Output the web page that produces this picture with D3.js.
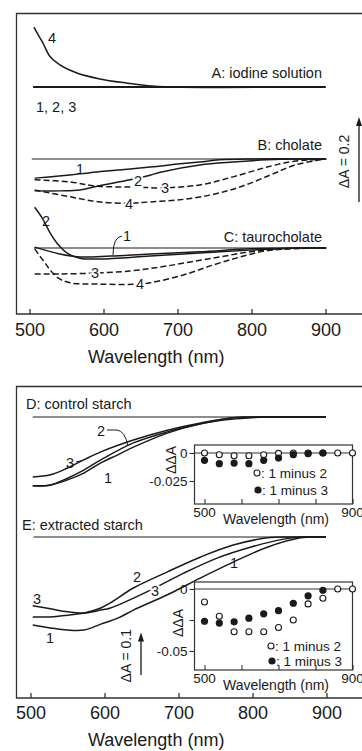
<!DOCTYPE html>
<html><head><meta charset="utf-8">
<script src="https://cdn.jsdelivr.net/npm/d3@7"></script>
<style>
body{margin:0;background:#fff}
svg{display:block}
text{font-family:"Liberation Sans",Arial,Helvetica,sans-serif;fill:#1a1a1a}
</style>
</head><body>
<svg id="c" width="362" height="751"></svg>
<script>
// ---------------- data ----------------
const wavelengthTicks = [500, 600, 700, 800, 900];
const insetTicks = [500, 600, 700, 800, 900];

// Panel A: iodine solution (ΔA vs wavelength, relative to baseline)
const aBaseline = [[505, 0], [900, 0]];
const aCurve123 = [[505, 0], [900, 0]];
const aCurve4 = [[506, 0.141], [512, 0.122], [518, 0.104], [528, 0.071], [541, 0.052], [564, 0.033], [595, 0.019], [632, 0.009], [660, 0.003], [690, 0], [900, 0]];

// Panel B: cholate
const bBaseline = [[503, 0], [902, 0]];
const bCurve1 = [[507, -0.045], [540, -0.040], [568, -0.035], [600, -0.029], [663, -0.019], [700, -0.012], [730, -0.007], [757, -0.002], [800, 0], [900, 0]];
const bCurve2 = [[507, -0.075], [541, -0.075], [568, -0.073], [591, -0.064], [636, -0.049], [663, -0.038], [677, -0.031], [730, -0.014], [775, -0.007], [821, -0.002], [860, 0], [900, 0]];
const bCurve3 = [[507, -0.049], [555, -0.054], [591, -0.064], [649, -0.066], [676, -0.068], [730, -0.061], [775, -0.042], [821, -0.019], [852, -0.007], [879, -0.002], [900, 0]];
const bCurve4 = [[507, -0.073], [555, -0.089], [595, -0.101], [636, -0.104], [663, -0.101], [703, -0.096], [744, -0.085], [784, -0.066], [825, -0.038], [859, -0.014], [893, -0.002], [900, 0]];

// Panel C: taurocholate
const cBaseline = [[506, 0], [902, 0]];
const cCurve1 = [[507, 0.002], [541, -0.014], [568, -0.021], [609, -0.019], [663, -0.014], [730, -0.009], [798, -0.002], [852, 0], [900, 0]];
const cCurve2 = [[507, 0.096], [517, 0.071], [528, 0.035], [537, 0.012], [551, -0.012], [568, -0.024], [595, -0.026], [663, -0.019], [730, -0.012], [798, -0.005], [865, 0], [900, 0]];
const cCurve3 = [[507, -0.061], [541, -0.061], [589, -0.059], [636, -0.054], [676, -0.045], [717, -0.033], [757, -0.021], [798, -0.009], [839, -0.002], [900, 0]];
const cCurve4 = [[507, -0.002], [514, -0.019], [521, -0.035], [528, -0.052], [539, -0.071], [555, -0.082], [595, -0.085], [649, -0.085], [663, -0.082], [707, -0.064], [748, -0.040], [785, -0.021], [818, -0.007], [852, -0.002], [900, 0]];

// Panel D: control starch
const dBaseline = [[503, 0], [899, 0]];
const dCurve1 = [[503, -0.162], [527, -0.160], [550, -0.148], [572, -0.132], [595, -0.108], [618, -0.089], [639, -0.071], [685, -0.038], [730, -0.016], [774, -0.005], [820, 0], [899, 0]];
const dCurve2 = [[503, -0.162], [527, -0.160], [550, -0.144], [572, -0.125], [595, -0.101], [639, -0.061], [685, -0.035], [730, -0.016], [774, -0.002], [820, 0], [899, 0]];
const dCurve3 = [[503, -0.141], [527, -0.136], [550, -0.120], [572, -0.101], [595, -0.082], [639, -0.054], [685, -0.031], [730, -0.014], [774, -0.002], [820, 0], [899, 0]];

// Panel E: extracted starch
const eBaseline = [[504, 0], [899, 0]];
const eCurve1 = [[503, -0.207], [527, -0.214], [550, -0.219], [572, -0.219], [595, -0.205], [618, -0.191], [639, -0.172], [685, -0.136], [730, -0.096], [774, -0.059], [820, -0.024], [865, -0.002], [888, 0], [899, 0]];
const eCurve2 = [[503, -0.188], [527, -0.188], [550, -0.184], [572, -0.179], [595, -0.167], [608, -0.155], [639, -0.120], [685, -0.082], [730, -0.047], [774, -0.019], [820, -0.002], [851, 0], [899, 0]];
const eCurve3 = [[503, -0.162], [527, -0.169], [550, -0.176], [572, -0.179], [595, -0.172], [608, -0.167], [662, -0.125], [707, -0.085], [753, -0.049], [797, -0.024], [842, -0.005], [865, 0], [899, 0]];

// Insets: ΔΔA
const insetWavelengths = [500, 540, 580, 620, 660, 700, 740, 780, 820, 860, 900];
const dOneMinusTwo = [0, -0.0015, -0.0024, -0.0024, -0.0015, -0.0003, 0, 0, 0, 0, 0];
const dOneMinusThree = [-0.0065, -0.0095, -0.009, -0.0095, -0.0065, -0.0045, -0.0015, -0.0006, 0];
const eOneMinusTwo = [-0.0105, -0.022, -0.0345, -0.0345, -0.0345, -0.031, -0.025, -0.012, -0.0075, 0, 0];
const eOneMinusThree = [-0.026, -0.0275, -0.0265, -0.0235, -0.020, -0.0175, -0.0115, -0.0055, -0.001];

// ---------------- drawing ----------------
const INK = '#1a1a1a';
const svg = d3.select('#c');

const xTop = d3.scaleLinear().domain([500, 900]).range([29.5, 325.5]);
const xBot = d3.scaleLinear().domain([500, 900]).range([30.5, 326.5]);
const PX_PER_A = 425;
const absScale = base => d3.scaleLinear().domain([0, 1]).range([base, base - PX_PER_A]);
const yA = absScale(87), yB = absScale(159), yC = absScale(248), yD = absScale(417), yE = absScale(537);

function curve(data, x, y, w, dash) {
  const line = d3.line().x(d => x(d[0])).y(d => y(d[1])).curve(d3.curveCatmullRom.alpha(0.5));
  svg.append('path').attr('d', line(data)).attr('fill', 'none')
    .attr('stroke', INK).attr('stroke-width', w).attr('stroke-linejoin', 'round')
    .attr('stroke-dasharray', dash || null);
}
function label(txt, x, y, size, opts = {}) {
  const t = svg.append('text').attr('x', x).attr('y', y).attr('font-size', size).attr('fill', INK)
    .attr('text-anchor', opts.anchor || 'middle').attr('dominant-baseline', 'central').text(txt);
  if (opts.halo) t.attr('stroke', '#fff').attr('stroke-width', 4).attr('paint-order', 'stroke');
  if (opts.rotate) t.attr('transform', `rotate(-90,${x},${y})`);
  return t;
}
function frame(top, bottom) {
  svg.append('path').attr('d', `M362,${top}H16.5V${bottom}H362`).attr('fill', 'none')
    .attr('stroke', '#333').attr('stroke-width', 1.3);
}
function mainAxis(x, yPos, pad) {
  const g = svg.append('g').attr('transform', `translate(0,${yPos})`)
    .call(d3.axisBottom(x).tickValues(wavelengthTicks).tickSizeInner(-5).tickSizeOuter(0).tickPadding(pad));
  g.select('.domain').remove();
  g.selectAll('line').attr('stroke', '#333').attr('stroke-width', 1.3);
  g.selectAll('text').attr('font-size', 18).attr('font-family', '"Liberation Sans",Arial,sans-serif').attr('fill', INK);
}
function arrow(x, y0, y1, text, tx) {
  svg.append('line').attr('x1', x).attr('x2', x).attr('y1', y0).attr('y2', y1 + 6)
    .attr('stroke', INK).attr('stroke-width', 1.3);
  svg.append('path').attr('d', `M${x},${y1}L${x - 3},${y1 + 9}L${x + 3},${y1 + 9}Z`).attr('fill', INK);
  label(text, tx, (y0 + y1) / 2 + 2, 14, { rotate: true });
}

// ===== Top figure (A, B, C) =====
frame(13.5, 314);
mainAxis(xTop, 314, 9);
svg.append('text').attr('x', 88).attr('y', 363).attr('font-size', 18).attr('fill', INK).text('Wavelength (nm)');

// A
curve(aBaseline, xTop, yA, 1);
curve(aCurve123, xTop, yA, 2.2);
curve(aCurve4, xTop, yA, 1.5);
label('4', 52, 38, 14.5);
label('1, 2, 3', 36, 107, 14.5, { anchor: 'start' });
label('A: iodine solution', 322, 73, 14.5, { anchor: 'end' });

// B
curve(bBaseline, xTop, yB, 1);
curve(bCurve1, xTop, yB, 1.5);
curve(bCurve2, xTop, yB, 1.5);
curve(bCurve3, xTop, yB, 1.5, '6,3');
curve(bCurve4, xTop, yB, 1.5, '6,3');
label('B: cholate', 322, 145, 14.5, { anchor: 'end' });
label('1', 80, 169, 14.5);
label('2', 138, 181, 14.5, { halo: true });
label('3', 165, 188, 14.5, { halo: true });
label('4', 129, 204, 14.5, { halo: true });

// C
curve(cBaseline, xTop, yC, 1);
curve(cCurve1, xTop, yC, 1.5);
curve(cCurve2, xTop, yC, 1.5);
curve(cCurve3, xTop, yC, 1.5, '6,3');
curve(cCurve4, xTop, yC, 1.5, '6,3');
label('C: taurocholate', 322, 237, 14.5, { anchor: 'end' });
label('2', 46, 221, 14.5);
svg.append('path').attr('d', 'M113,255Q113,237 122,236').attr('fill', 'none').attr('stroke', INK).attr('stroke-width', 1);
label('1', 127, 236, 14.5);
label('3', 95, 273, 14.5, { halo: true });
label('4', 140, 284, 14.5, { halo: true });

// ΔA = 0.2 arrow
arrow(359, yB(0) + 43, yB(0) + 43 - 0.2 * PX_PER_A, 'ΔA = 0.2', 344);

// ===== Bottom figure (D, E) =====
frame(386.5, 698);
mainAxis(xBot, 698, 8.5);
svg.append('text').attr('x', 88).attr('y', 746).attr('font-size', 18).attr('fill', INK).text('Wavelength (nm)');

// D
curve(dBaseline, xBot, yD, 1);
curve(dCurve1, xBot, yD, 1.5);
curve(dCurve2, xBot, yD, 1.5);
curve(dCurve3, xBot, yD, 1.5);
label('D: control starch', 26, 404, 14.5, { anchor: 'start' });
label('3', 70, 463, 14.5);
svg.append('path').attr('d', 'M76,462L84,460').attr('stroke', INK).attr('stroke-width', 1);
label('2', 101, 431, 14.5);
svg.append('path').attr('d', 'M107,430L117,430Q125,431 128,446').attr('fill', 'none').attr('stroke', INK).attr('stroke-width', 1);
label('1', 108, 478, 14.5);

// E
curve(eBaseline, xBot, yE, 1);
curve(eCurve1, xBot, yE, 1.5);
curve(eCurve2, xBot, yE, 1.5);
curve(eCurve3, xBot, yE, 1.5);
label('E: extracted starch', 22, 525, 14.5, { anchor: 'start' });
label('3', 37, 599, 14.5);
label('1', 50, 638, 14.5);
label('2', 137, 577, 14.5);
label('3', 155, 591, 14.5, { halo: true });
label('1', 234, 563, 14.5);

// ΔA = 0.1 arrow
arrow(141, 675, 675 - 0.1 * PX_PER_A, 'ΔA = 0.1', 126);

// ===== Insets =====
function inset(cfg) {
  const xi = d3.scaleLinear().domain([500, 900]).range([204.5, 352.5]);
  const yi = d3.scaleLinear().domain([0, cfg.refVal]).range([cfg.zero, cfg.refY]);
  const L = 194.5, R = xi(900);
  svg.append('rect').attr('x', L).attr('y', cfg.top).attr('width', R - L).attr('height', cfg.bottom - cfg.top)
    .attr('fill', '#fff').attr('stroke', '#333').attr('stroke-width', 1.2);
  // zero line
  svg.append('line').attr('x1', L).attr('x2', R).attr('y1', yi(0)).attr('y2', yi(0)).attr('stroke', '#333').attr('stroke-width', 1.1);
  // x ticks (inward)
  const gx = svg.append('g').attr('transform', `translate(0,${cfg.bottom})`)
    .call(d3.axisBottom(xi).tickValues(insetTicks).tickSizeInner(-5).tickSizeOuter(0).tickFormat(''));
  gx.select('.domain').remove();
  gx.selectAll('line').attr('stroke', '#333').attr('stroke-width', 1.1);
  label('500', xi(500), cfg.bottom + 8, 13.5);
  label('900', xi(900), cfg.bottom + 8, 13.5);
  label('Wavelength (nm)', 276, cfg.bottom + 15, 14);
  // y ticks (outward)
  const gy = svg.append('g').attr('transform', `translate(${L},0)`)
    .call(d3.axisLeft(yi).tickValues(cfg.yTicks).tickSizeInner(5).tickSizeOuter(0).tickPadding(2)
      .tickFormat(d => cfg.yLabels.includes(d) ? (d === 0 ? '0' : '-' + String(Math.abs(d))) : ''));
  gy.select('.domain').remove();
  gy.selectAll('line').attr('stroke', '#333').attr('stroke-width', 1.1);
  gy.selectAll('text').attr('font-size', 13.5).attr('font-family', '"Liberation Sans",Arial,sans-serif').attr('fill', INK);
  label('ΔΔA', cfg.ylabX, cfg.ylabY, 14, { rotate: true });
  // points
  svg.append('g').selectAll('circle').data(cfg.open).join('circle')
    .attr('cx', (d, i) => xi(insetWavelengths[i])).attr('cy', d => yi(d)).attr('r', 3)
    .attr('fill', '#fff').attr('stroke', INK).attr('stroke-width', 1.1);
  svg.append('g').selectAll('circle').data(cfg.filled).join('circle')
    .attr('cx', (d, i) => xi(insetWavelengths[i])).attr('cy', d => yi(d)).attr('r', 3.6)
    .attr('fill', INK);
  // legend
  svg.append('circle').attr('cx', cfg.legX).attr('cy', cfg.legY1).attr('r', 3).attr('fill', '#fff').attr('stroke', INK).attr('stroke-width', 1.1);
  label(': 1 minus 2', cfg.legX + 4, cfg.legY1, 13.5, { anchor: 'start' });
  svg.append('circle').attr('cx', cfg.legX + 1).attr('cy', cfg.legY2).attr('r', 3.6).attr('fill', INK);
  label(': 1 minus 3', cfg.legX + 5, cfg.legY2, 13.5, { anchor: 'start' });
}

inset({ top: 445, bottom: 504, zero: 453, refVal: -0.025, refY: 481,
  yTicks: [0, -0.025], yLabels: [0, -0.025], ylabX: 171, ylabY: 460,
  open: dOneMinusTwo, filled: dOneMinusThree, legX: 257, legY1: 473, legY2: 490 });
inset({ top: 582, bottom: 670, zero: 589, refVal: -0.05, refY: 651,
  yTicks: [0, -0.025, -0.05], yLabels: [0, -0.05], ylabX: 178, ylabY: 623,
  open: eOneMinusTwo, filled: eOneMinusThree, legX: 271, legY1: 646, legY2: 661 });
</script>
</body></html>
